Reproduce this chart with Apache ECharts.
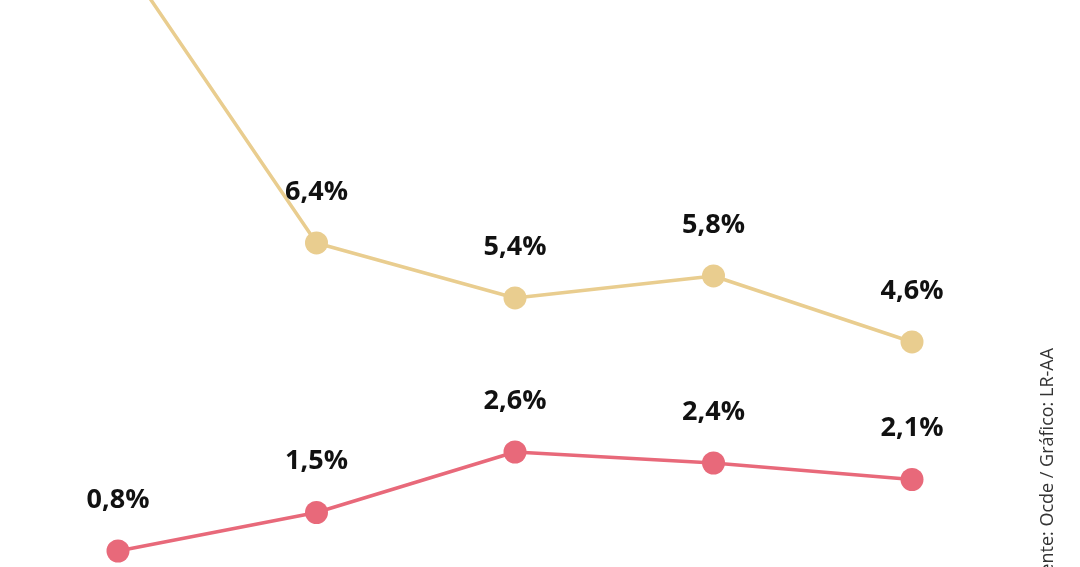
<!DOCTYPE html>
<html><head><meta charset="utf-8">
<script src="https://cdn.jsdelivr.net/npm/echarts@6/dist/echarts.min.js"></script>
<style>html,body{margin:0;padding:0;background:#fff}#c{width:1080px;height:567px}</style>
</head><body><div id="c"></div>
<script>
const categories = [0, 1, 2, 3, 4];
const seriesTop = [11.7, 6.4, 5.4, 5.8, 4.6];
const seriesBottom = [0.8, 1.5, 2.6, 2.4, 2.1];
const sourceText = 'Fuente: Ocde / Gráfico: LR-AA';
const fmt = v => String(v.value[1].toFixed(1)).replace('.', ',') + '%';
const mk = (vals, color) => ({
  type: 'line', data: vals.map((v, i) => [categories[i], v]),
  symbol: 'circle', symbolSize: 23, lineStyle: {color, width: 3.5},
  itemStyle: {color}, silent: true, z: 2, clip: false,
  label: {show: true, position: 'top', distance: 26, formatter: fmt,
    fontFamily: 'Open Sans', fontWeight: 'bold', fontSize: 27, color: '#111'}
});
const chart = echarts.init(document.getElementById('c'));
chart.setOption({
  animation: false,
  grid: {left: 118, right: 168, top: 0, bottom: 0},
  xAxis: {type: 'value', min: 0, max: 4, show: false},
  yAxis: {type: 'value', min: 0.509, max: 10.818, show: false},
  series: [mk(seriesTop, '#E9CD8F'), mk(seriesBottom, '#E8697A')],
  graphic: [{type: 'text', x: 1048, y: 594, rotation: Math.PI / 2,
    style: {text: sourceText, fontFamily: 'Open Sans', fontSize: 18, fill: '#333',
      textAlign: 'left', textVerticalAlign: 'middle'}}]
});
</script></body></html>
